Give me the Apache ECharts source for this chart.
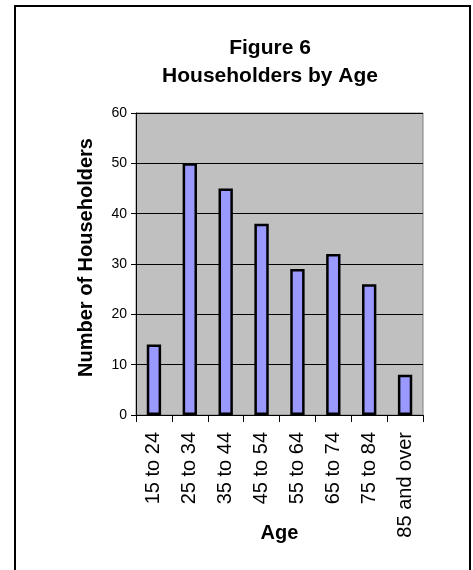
<!DOCTYPE html>
<html>
<head>
<meta charset="utf-8">
<script src="https://cdn.jsdelivr.net/npm/echarts@6/dist/echarts.min.js"></script>
<style>
  html, body { margin: 0; padding: 0; background: #fff; }
  #main { width: 473px; height: 570px; }
</style>
</head>
<body>
<div id="main"></div>
<script>
// age groups and counts
const ageGroups = ['15 to 24', '25 to 34', '35 to 44', '45 to 54', '55 to 64', '65 to 74', '75 to 84', '85 and over'];
const householders = [14, 50, 45, 38, 29, 32, 26, 8];

const font = '"Liberation Sans", Arial, sans-serif';

const chart = echarts.init(document.getElementById('main'), null, { renderer: 'canvas' });

const option = {
  backgroundColor: '#fff',
  animation: false,
  title: {
    text: 'Figure 6\nHouseholders by Age',
    left: 265,
    top: 29,
    textAlign: 'center',
    textStyle: {
      fontFamily: font,
      fontSize: 21,
      fontWeight: 'bold',
      color: '#000',
      lineHeight: 28
    }
  },
  graphic: [{
    type: 'rect',
    shape: { x: 15, y: 6, width: 455, height: 580 },
    style: { fill: 'none', stroke: '#000', lineWidth: 2 },
    silent: true
  }],
  grid: {
    left: 136,
    top: 113,
    width: 287,
    height: 302,
    show: true,
    backgroundColor: '#c0c0c0',
    borderColor: '#808080',
    borderWidth: 1
  },
  xAxis: {
    type: 'category',
    data: ageGroups,
    name: 'Age',
    nameLocation: 'middle',
    nameGap: 108,
    nameMoveOverlap: false,
    nameTextStyle: { fontFamily: font, fontSize: 20, fontWeight: 'bold', color: '#000' },
    axisLine: { lineStyle: { color: '#000', width: 1 } },
    axisTick: { show: true, length: 7, lineStyle: { color: '#000' } },
    axisLabel: {
      rotate: 90,
      margin: 17,
      fontFamily: font,
      fontSize: 20,
      color: '#000',
      interval: 0
    }
  },
  yAxis: {
    type: 'value',
    min: 0,
    max: 60,
    interval: 10,
    name: 'Number of Householders',
    nameLocation: 'middle',
    nameGap: 40,
    nameMoveOverlap: false,
    nameTextStyle: { fontFamily: font, fontSize: 20, fontWeight: 'bold', color: '#000', padding: [0, 0, 0, 13] },
    axisLine: { show: true, lineStyle: { color: '#000', width: 1 } },
    axisTick: { show: true, length: 5, lineStyle: { color: '#000' } },
    axisLabel: { fontFamily: font, fontSize: 14, color: '#000', margin: 9 },
    splitLine: { show: true, lineStyle: { color: '#000', width: 1 } }
  },
  series: [{
    type: 'bar',
    data: householders,
    barWidth: '40%',
    itemStyle: {
      color: '#9999ff',
      borderColor: '#000',
      borderWidth: 2.5
    }
  }]
};

chart.setOption(option);
</script>
</body>
</html>
